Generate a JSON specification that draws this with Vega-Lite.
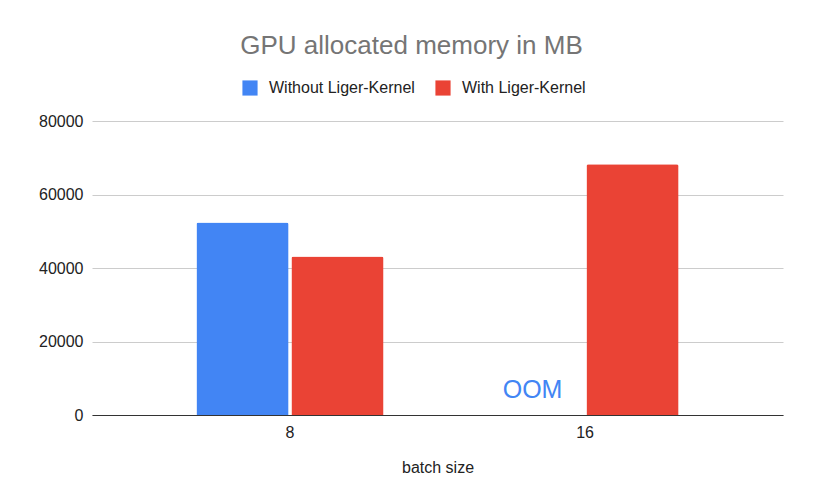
{
  "$schema": "https://vega.github.io/schema/vega-lite/v6.json",
  "width": 691,
  "height": 294,
  "autosize": {"type": "none"},
  "padding": {"left": 92, "top": 121, "right": 33, "bottom": 85},
  "background": "white",
  "config": {
    "font": "Liberation Sans",
    "view": {"stroke": null}
  },
  "title": {
    "text": "GPU allocated memory in MB",
    "fontSize": 26,
    "fontWeight": "normal",
    "color": "#757575",
    "font": "Liberation Sans",
    "anchor": "middle",
    "frame": "group",
    "dx": -26,
    "offset": 21
  },
  "data": {
    "values": [
      {"batch": "8", "series": "Without Liger-Kernel", "memory": 52400},
      {"batch": "8", "series": "With Liger-Kernel", "memory": 43100},
      {"batch": "16", "series": "With Liger-Kernel", "memory": 68200}
    ]
  },
  "layer": [
    {
      "mark": {"type": "bar", "cornerRadiusTopLeft": 2, "cornerRadiusTopRight": 2},
      "encoding": {
        "x": {
          "field": "batch",
          "type": "nominal",
          "sort": ["8", "16"],
          "scale": {"domain": ["8", "16"], "paddingInner": 0.366, "paddingOuter": 0.354},
          "axis": {
            "title": "batch size",
            "titleFontSize": 16,
            "titleFontWeight": "normal",
            "titleColor": "#222222",
            "titlePadding": 19,
            "labelFontSize": 16,
            "labelColor": "#222222",
            "labelAngle": 0,
            "labelPadding": 9,
            "ticks": false,
            "domainColor": "#333333",
            "domainWidth": 1
          }
        },
        "xOffset": {
          "field": "series",
          "type": "nominal",
          "scale": {"domain": ["Without Liger-Kernel", "With Liger-Kernel"], "paddingInner": 0.03}
        },
        "y": {
          "field": "memory",
          "type": "quantitative",
          "scale": {"domain": [0, 80000]},
          "axis": {
            "title": null,
            "values": [0, 20000, 40000, 60000, 80000],
            "format": "d",
            "labelFontSize": 16,
            "labelColor": "#222222",
            "labelPadding": 9,
            "ticks": false,
            "domain": false,
            "gridColor": "#cccccc",
            "gridWidth": 1
          }
        },
        "color": {
          "field": "series",
          "type": "nominal",
          "scale": {"domain": ["Without Liger-Kernel", "With Liger-Kernel"], "range": ["#4285F4", "#EA4335"]},
          "legend": {
            "title": null,
            "orient": "none",
            "direction": "horizontal",
            "legendX": 150,
            "legendY": -41,
            "symbolType": "square",
            "symbolSize": 230,
            "symbolStrokeWidth": 0,
            "symbolOpacity": 1,
            "labelFontSize": 16,
            "labelColor": "#222222",
            "labelOffset": 11,
            "columnPadding": 20
          }
        }
      }
    },
    {
      "data": {"values": [{"batch": "16", "series": "Without Liger-Kernel", "memory": 0, "label": "OOM"}]},
      "mark": {"type": "text", "fontSize": 25, "color": "#4285F4", "baseline": "alphabetic", "dy": -17, "dx": -5},
      "encoding": {
        "x": {"field": "batch", "type": "nominal", "sort": ["8", "16"]},
        "xOffset": {"field": "series", "type": "nominal"},
        "y": {"field": "memory", "type": "quantitative"},
        "text": {"field": "label"}
      }
    }
  ]
}
